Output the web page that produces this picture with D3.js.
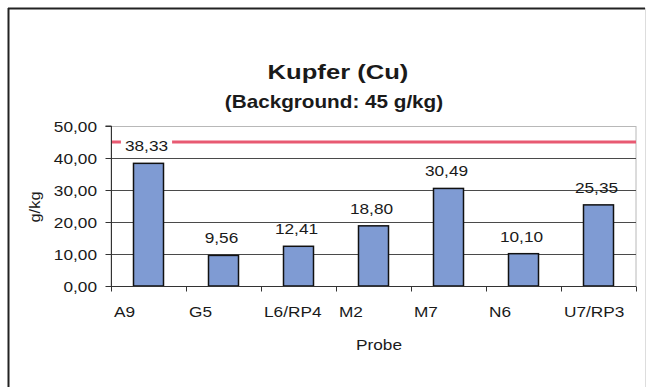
<!DOCTYPE html>
<html>
<head>
<meta charset="utf-8">
<script src="https://cdn.jsdelivr.net/npm/d3@7"></script>
<style>
  html, body { margin: 0; padding: 0; background: #fff; }
  svg { display: block; font-family: "Liberation Sans", Arial, sans-serif; }
</style>
</head>
<body>
<svg id="chart" width="647" height="387"></svg>
<script>
// Kupfer (Cu) per Probe, g/kg
const categories = ["A9", "G5", "L6/RP4", "M2", "M7", "N6", "U7/RP3"];
const values = [38.33, 9.56, 12.41, 18.80, 30.49, 10.10, 25.35];
const background = 45;
const yTicks = [0, 10, 20, 30, 40, 50];

const fmt = v => d3.format(".2f")(v).replace(".", ",");

const svg = d3.select("#chart");
const W = 647, H = 387;
const plot = { left: 111, right: 636, top: 126, bottom: 286 };

// outer frame
svg.append("line").attr("x1", 8).attr("x2", 645).attr("y1", 8.5).attr("y2", 8.5)
  .attr("stroke", "#222").attr("stroke-width", 2);
svg.append("line").attr("x1", 8.5).attr("x2", 8.5).attr("y1", 8).attr("y2", H + 5)
  .attr("stroke", "#222").attr("stroke-width", 2);
svg.append("line").attr("x1", 645.5).attr("x2", 645.5).attr("y1", 8).attr("y2", H + 5)
  .attr("stroke", "#ddd").attr("stroke-width", 1);

const x = d3.scaleBand().domain(categories).range([plot.left, plot.right]).paddingInner(0).paddingOuter(0);
const y = d3.scaleLinear().domain([0, 50]).range([plot.bottom, plot.top]);

// text helper: horizontally widened glyphs
function label(g, txt, px, py, opts) {
  const o = Object.assign({ size: 15, sx: 1.15, anchor: "middle", weight: "normal", rotate: 0 }, opts);
  return g.append("text")
    .attr("transform", `translate(${px},${py}) rotate(${o.rotate}) scale(${o.sx},1)`)
    .attr("text-anchor", o.anchor)
    .attr("font-size", o.size)
    .attr("font-weight", o.weight)
    .attr("fill", "#1a1a1a")
    .text(txt);
}

// titles
label(svg, "Kupfer (Cu)", 338, 79, { size: 21, sx: 1.22, weight: "bold" });
label(svg, "(Background: 45 g/kg)", 334, 108, { size: 18, sx: 1.15, weight: "bold" });

// plot area border
svg.append("rect").attr("x", plot.left).attr("y", plot.top + 0.5)
  .attr("width", plot.right - plot.left).attr("height", plot.bottom - plot.top)
  .attr("fill", "none").attr("stroke", "#b8b8b8").attr("stroke-width", 1);

// gridlines
svg.append("g").selectAll("line").data(yTicks.filter(t => t > 0 && t < 50)).join("line")
  .attr("x1", plot.left).attr("x2", plot.right)
  .attr("y1", d => Math.round(y(d)) + 0.5).attr("y2", d => Math.round(y(d)) + 0.5)
  .attr("stroke", "#4a4a4a").attr("stroke-width", 1);

// bars
const barW = 30;
svg.append("g").selectAll("rect").data(values).join("rect")
  .attr("x", (d, i) => x(categories[i]) + x.bandwidth() / 2 - barW / 2)
  .attr("y", d => y(d))
  .attr("width", barW)
  .attr("height", d => y(0) - y(d))
  .attr("fill", "#7f9bd3")
  .attr("stroke", "#111")
  .attr("stroke-width", 1.5);

// background reference line
svg.append("line")
  .attr("x1", plot.left + 1).attr("x2", plot.right)
  .attr("y1", y(background)).attr("y2", y(background))
  .attr("stroke", "#e85a72").attr("stroke-width", 3);

// value labels
const vl = svg.append("g");
values.forEach((v, i) => {
  const cx = x(categories[i]) + x.bandwidth() / 2;
  const t = label(vl, fmt(v), cx - 2, y(v) - 12, {});
  const b = t.node().getBBox();
  if (i === 0) {
    // white box behind the label where it crosses the reference line
    vl.insert("rect", "text")
      .attr("x", cx - 2 - b.width * 1.15 / 2 - 4).attr("y", y(v) - 12 - b.height + 2)
      .attr("width", b.width * 1.15 + 8).attr("height", b.height + 2)
      .attr("fill", "#fff");
  }
});

// y axis
const yAxis = d3.axisLeft(y).tickValues(yTicks).tickSize(6).tickFormat("");
const ya = svg.append("g").attr("transform", `translate(${plot.left + 0.5},0)`).call(yAxis);
ya.selectAll("path, line").attr("stroke", "#333");
ya.select(".domain").attr("d", `M-6,${plot.top}H0V${plot.bottom}`);
yTicks.forEach(t => label(svg, fmt(t), 97, y(t) + 5.5, { anchor: "end" }));

// x axis
const xa = svg.append("g").attr("transform", `translate(0,${plot.bottom + 0.5})`);
xa.append("line").attr("x1", plot.left).attr("x2", plot.right).attr("stroke", "#333");
const bounds = categories.map(c => x(c)).concat([plot.right]);
xa.selectAll(".tk").data(bounds).join("line").attr("class", "tk")
  .attr("x1", d => Math.round(d) + 0.5).attr("x2", d => Math.round(d) + 0.5)
  .attr("y1", 0).attr("y2", 5).attr("stroke", "#333");
categories.forEach(c => label(svg, c, x(c) + 3, 317, { anchor: "start" }));

// axis titles
label(svg, "Probe", 379, 350, {});
label(svg, "g/kg", 40, 207, { rotate: -90, sx: 1.1 });
</script>
</body>
</html>
